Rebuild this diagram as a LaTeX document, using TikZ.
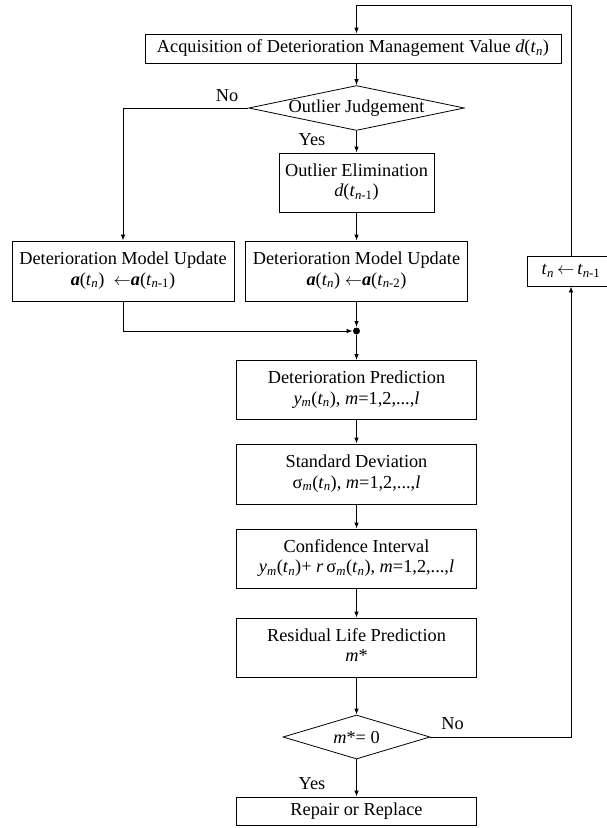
\documentclass[tikz,border=0pt]{standalone}
\usepackage{fontspec}
\setmainfont{Liberation Serif}
\usetikzlibrary{shapes.geometric,arrows.meta}
\newcommand{\tn}{\textit{t}\textsubscript{\textit{n}}}
\newcommand{\tnm}[1]{\textit{t}\textsubscript{\textit{n}-#1}}
\newcommand{\ba}{\textbf{\textit{a}}}
\begin{document}
\begin{tikzpicture}[x=1pt,y=-1pt,line width=0.8pt,
	font=\fontsize{18.3}{20.5}\selectfont,
	box/.style={draw, rectangle, inner sep=0pt},
	decision/.style={draw, diamond, inner sep=0pt, aspect=4.8},
	label/.style={inner sep=0pt},
	arr/.style={-{Latex[length=6pt,width=4.5pt]}}]
	\useasboundingbox (0,0) rectangle (607,828);
	% upper part
	\node[box, minimum width=416pt, minimum height=29pt] (acq) at (353,48.5) {Acquisition of Deterioration Management Value \textit{d}(\tn)};
	\node[decision, minimum width=211pt, minimum height=44pt] (judge) at (356.5,108) {Outlier Judgement};
	\node[box, minimum width=155pt, minimum height=59pt] (elim) at (356.5,182.5) {\begin{tabular}{c}Outlier Elimination\\ \textit{d}(\tnm{1})\end{tabular}};
	\node[box, minimum width=222pt, minimum height=60pt] (updL) at (123,271) {\begin{tabular}{c}Deterioration Model Update\\ \ba(\tn)\ \ $\leftarrow$\ba(\tnm{1})\end{tabular}};
	\node[box, minimum width=222pt, minimum height=60pt] (updR) at (356.5,271) {\begin{tabular}{c}Deterioration Model Update\\ \ba(\tn) $\leftarrow$\ba(\tnm{2})\end{tabular}};
	\node[circle, fill, inner sep=0pt, minimum size=7pt] (merge) at (356.5,331) {};
	% main column
	\node[box, minimum width=240pt, minimum height=59pt] (pred) at (356.5,390) {\begin{tabular}{c}Deterioration Prediction\\ \textit{y}\textsubscript{\textit{m}}(\tn), \textit{m}=1,2,...,\textit{l}\end{tabular}};
	\node[box, minimum width=240pt, minimum height=60pt] (sd) at (356.5,474) {\begin{tabular}{c}Standard Deviation\\ σ\textsubscript{\textit{m}}(\tn), \textit{m}=1,2,...,\textit{l}\end{tabular}};
	\node[box, minimum width=240pt, minimum height=59pt] (ci) at (356.5,558.5) {\begin{tabular}{c}Confidence Interval\\ \textit{y}\textsubscript{\textit{m}}(\tn)+ \textit{r}\,σ\textsubscript{\textit{m}}(\tn), \textit{m}=1,2,...,\textit{l}\end{tabular}};
	\node[box, minimum width=240pt, minimum height=59pt] (rlp) at (356.5,647.5) {\begin{tabular}{c}Residual Life Prediction\\ \textit{m}*\end{tabular}};
	\node[decision, minimum width=147pt, minimum height=44pt] (check) at (356.5,737) {\textit{m}*= 0};
	\node[box, minimum width=240pt, minimum height=28pt] (repair) at (356.5,811) {Repair or Replace};
	\node[box, minimum width=88pt, minimum height=30pt] (tnbox) at (571,271) {\tn\,$\leftarrow$\,\tnm{1}};
	% labels
	\node[label] (noA) at (227,96) {No};
	\node[label] (yesA) at (312,140) {Yes};
	\node[label] (noB) at (452.5,724) {No};
	\node[label] (yesB) at (312,784) {Yes};
	% connectors
	\coordinate (loop) at (356.5,5);
	\draw[arr] (tnbox.north) |- (loop) -- (acq.north -| loop);
	\draw[arr] (acq.south -| judge.north) -- (judge.north);
	\draw[arr] (judge.south) -- (elim.north);
	\draw[arr] (judge.west) -| (updL.north);
	\draw[arr] (elim.south) -- (updR.north);
	\draw[arr] (updL.south) |- (merge.west);
	\draw[arr] (updR.south) -- (merge.north);
	\draw[arr] (merge.south) -- (pred.north);
	\draw[arr] (pred) -- (sd);
	\draw[arr] (sd) -- (ci);
	\draw[arr] (ci) -- (rlp);
	\draw[arr] (rlp) -- (check);
	\draw[arr] (check) -- (repair);
	\draw[arr] (check.east) -| (tnbox.south);
\end{tikzpicture}
\end{document}
